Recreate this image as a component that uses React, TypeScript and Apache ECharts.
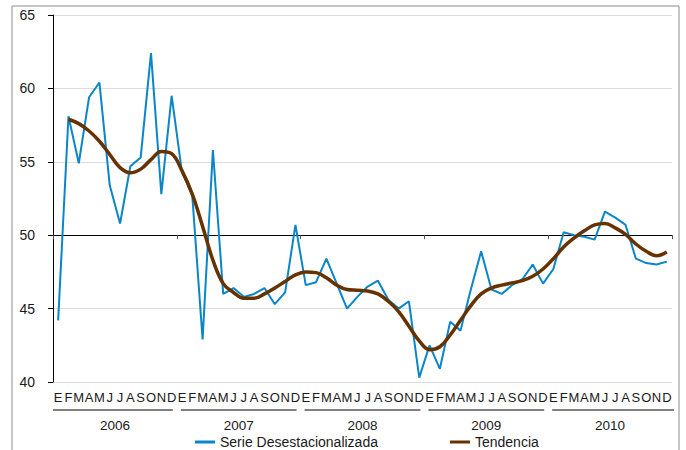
import React, { useEffect, useRef } from "react";
import * as echarts from "echarts";

const monthLetters = ["E", "F", "M", "A", "M", "J", "J", "A", "S", "O", "N", "D"];
const years = ["2006", "2007", "2008", "2009", "2010"];
const periods = years.flatMap((y) => monthLetters.map((_, i) => `${y}-${String(i + 1).padStart(2, "0")}`));

const serieDesestacionalizada = [
  44.2, 58.1, 54.9, 59.4, 60.4, 53.4, 50.8, 54.7, 55.3, 62.4, 52.8, 59.5,
  54.3, 52.7, 42.9, 55.8, 46.0, 46.4, 45.8, 46.0, 46.4, 45.3, 46.1, 50.7,
  46.6, 46.8, 48.4, 46.7, 45.0, 45.8, 46.5, 46.9, 45.6, 45.0, 45.5, 40.3,
  42.5, 40.9, 44.1, 43.5, 46.3, 48.9, 46.3, 46.0, 46.6, 47.0, 48.0, 46.7,
  47.7, 50.2, 50.0, 49.9, 49.7, 51.6, 51.2, 50.7, 48.4, 48.1, 48.0, 48.2,
];

const tendencia: (number | string)[] = [
  "-", 57.9, 57.6, 57.1, 56.4, 55.5, 54.6, 54.25, 54.5, 55.15, 55.7, 55.55,
  54.4, 52.8, 50.6, 48.3, 46.7, 46.1, 45.7, 45.7, 46.0, 46.4, 46.85, 47.3,
  47.5, 47.45, 47.1, 46.6, 46.3, 46.25, 46.2, 46.0, 45.5, 44.8, 43.8, 42.8,
  42.2, 42.4, 43.2, 44.2, 45.2, 46.0, 46.4, 46.6, 46.75, 46.9, 47.2, 47.7,
  48.4, 49.2, 49.8, 50.3, 50.7, 50.8, 50.5, 50.05, 49.4, 48.9, 48.6, 48.85,
];

const yTicks = { min: 40, max: 65, interval: 5 };
const referenceLevel = 50;

const FONT = "'Liberation Sans', Arial, sans-serif";
const TEXT = "#1a1a1a";

export default function App() {
  const ref = useRef<HTMLDivElement>(null);

  useEffect(() => {
    if (!ref.current) return;
    const chart = echarts.init(ref.current, null, { renderer: "svg" });
    const gridTop = 15;
    const gridBottomPx = 382;
    const range = yTicks.max - yTicks.min;
    const refOffset = -((referenceLevel - yTicks.min) / range) * (gridBottomPx - gridTop);

    chart.setOption({
      animation: false,
      textStyle: { fontFamily: FONT },
      grid: { left: 53, right: 14, top: gridTop, bottom: 450 - gridBottomPx },
      legend: {
        left: 190,
        top: 435,
        padding: [0, 5],
        icon: "rect",
        itemWidth: 20,
        itemHeight: 3,
        itemGap: 72,
        textStyle: { fontSize: 14, lineHeight: 14, color: TEXT, fontFamily: FONT },
        data: ["Serie Desestacionalizada", "Tendencia"],
      },
      xAxis: [
        {
          type: "category",
          data: periods,
          boundaryGap: true,
          axisLine: { show: false },
          axisTick: { show: false },
          axisLabel: {
            interval: 0,
            margin: 9,
            fontSize: 13,
            color: TEXT,
            fontFamily: FONT,
            formatter: (v: string) => monthLetters[parseInt(v.slice(5), 10) - 1],
          },
        },
        {
          type: "category",
          data: years,
          boundaryGap: true,
          position: "bottom",
          axisLine: { show: false },
          axisTick: { show: false },
          axisLabel: { margin: 37, fontSize: 13.5, lineHeight: 13, color: TEXT, fontFamily: FONT },
        },
        {
          type: "category",
          data: periods,
          boundaryGap: true,
          position: "bottom",
          offset: refOffset,
          axisLine: { show: true, lineStyle: { color: "#000", width: 1 } },
          axisTick: { show: true, interval: 11, length: 4, lineStyle: { color: "#555" } },
          axisLabel: { show: false },
          z: 1,
        },
      ],
      yAxis: {
        type: "value",
        min: yTicks.min,
        max: yTicks.max,
        interval: yTicks.interval,
        axisLine: { show: true, lineStyle: { color: "#000", width: 1 } },
        axisTick: { show: true, length: 5, lineStyle: { color: "#000" } },
        axisLabel: { margin: 18, fontSize: 14, color: TEXT, fontFamily: FONT },
        splitLine: { show: true, lineStyle: { color: "#dcdcdc", width: 1 } },
      },
      series: [
        {
          name: "Serie Desestacionalizada",
          type: "line",
          data: serieDesestacionalizada,
          showSymbol: false,
          symbol: "none",
          itemStyle: { color: "#0a86c8" },
          lineStyle: { color: "#0a86c8", width: 2 },
          z: 3,
        },
        {
          name: "Tendencia",
          type: "line",
          data: tendencia,
          smooth: 0.4,
          showSymbol: false,
          symbol: "none",
          itemStyle: { color: "#663300" },
          lineStyle: { color: "#663300", width: 3.5 },
          z: 4,
        },
      ],
    });

    const first = chart.convertToPixel({ xAxisIndex: 0 }, periods[0]) as number;
    const last = chart.convertToPixel({ xAxisIndex: 0 }, periods[periods.length - 1]) as number;
    const step = (last - first) / (periods.length - 1);
    const left = first - step / 2;
    const lines = years.map((_, k) => {
      const x1 = left + k * 12 * step + (k === 0 ? 0 : 4);
      const x2 = left + (k + 1) * 12 * step - (k === years.length - 1 ? -2 : 4);
      return {
        type: "line",
        shape: { x1, y1: 410, x2, y2: 410 },
        style: { stroke: "#000", lineWidth: 1 },
        silent: true,
      };
    });

    chart.setOption({
      graphic: [
        {
          type: "rect",
          shape: { x: 12, y: 6, width: 667, height: 470 },
          style: { fill: "none", stroke: "#8c8c8c", lineWidth: 1 },
          silent: true,
        },
        ...lines,
      ],
    });

    return () => chart.dispose();
  }, []);

  return (
    <div
      ref={ref}
      style={{ position: "fixed", left: 0, top: 0, width: 686, height: 450, background: "#fff" }}
    />
  );
}
